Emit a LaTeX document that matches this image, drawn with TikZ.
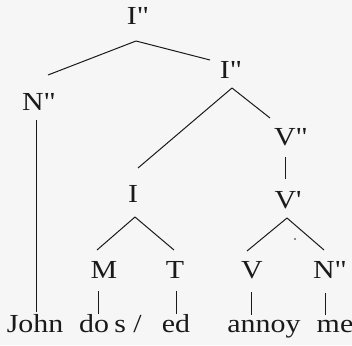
\documentclass[tikz,border=0pt]{standalone}
\usepackage{fontspec}
\setmainfont{Liberation Serif}[FakeStretch=1.15,Ligatures=TeXOff]
\usetikzlibrary{calc}
\definecolor{ink}{HTML}{1A1A1A}
\definecolor{paper}{HTML}{F6F6F6}
\begin{document}
\begin{tikzpicture}[x=1pt,y=-1pt,
  lab/.style={anchor=base,inner sep=0pt,text=ink,font=\fontsize{26}{29}\selectfont},
  edge/.style={draw=ink,line width=1pt}]
\fill[paper] (0,0) rectangle (352,345);
\useasboundingbox (0,0) rectangle (352,345);
% nodes
\node[lab] (Itop)   at (138,25)  {I"};
\node[lab] (Iright) at (231,78)  {I"};
\node[lab] (N1)     at (39,110)  {N"};
\node[lab] (V2)     at (291,145) {V"};
\node[lab] (V1)     at (288,208) {V'};
\node[lab] (I)      at (133,202) {I};
\node[lab] (M)      at (104,278) {M};
\node[lab] (T)      at (175,278) {T};
\node[lab] (V)      at (252,278) {V};
\node[lab] (N2)     at (330,278) {N"};
\node[lab] (John)   at (35,332)  {John};
\node[lab] (do)     at (94,332)  {do};
\node[lab] (sl)     at (128,332) {s /};
\node[lab] (ed)     at (176,332) {ed};
\node[lab] (annoy)  at (264,332) {annoy};
\node[lab] (me)     at (335,332) {me};
% connectors
\draw[edge] ($(Itop.base)+(-2,16)$) -- ($(N1.base)+(9,-35)$);
\draw[edge] ($(Itop.base)+(-2,16)$) -- ($(Iright.base)+(-21,-18)$);
\draw[edge] ($(Iright.base)+(1,10)$) -- ($(I.base)+(5,-34)$);
\draw[edge] ($(Iright.base)+(1,10)$) -- ($(V2.base)+(-21,-27)$);
\draw[edge] ($(V2.base)+(-6,12)$) -- ($(V1.base)+(-3,-29)$);
\draw[edge] ($(I.base)+(2,15)$) -- ($(M.base)+(-7,-28)$);
\draw[edge] ($(I.base)+(2,15)$) -- ($(T.base)+(-1,-28)$);
\draw[edge] ($(V1.base)+(-1,10)$) -- ($(V.base)+(-5,-27)$);
\draw[edge] ($(V1.base)+(-1,10)$) -- ($(N2.base)+(-6,-28)$);
\draw[edge] ($(N1.base)+(-3,10)$) -- ($(John.base)+(1,-20)$);
\draw[edge] ($(M.base)+(-6,13)$) -- ($(do.base)+(4,-18)$);
\draw[edge] ($(T.base)+(1,13)$) -- ($(ed.base)+(0,-18)$);
\draw[edge] ($(V.base)+(-1,14)$) -- ($(annoy.base)+(-13,-17)$);
\draw[edge] ($(N2.base)+(-5,15)$) -- ($(me.base)+(-10,-17)$);
\fill[ink] (295,239) circle (0.9);
\end{tikzpicture}
\end{document}
